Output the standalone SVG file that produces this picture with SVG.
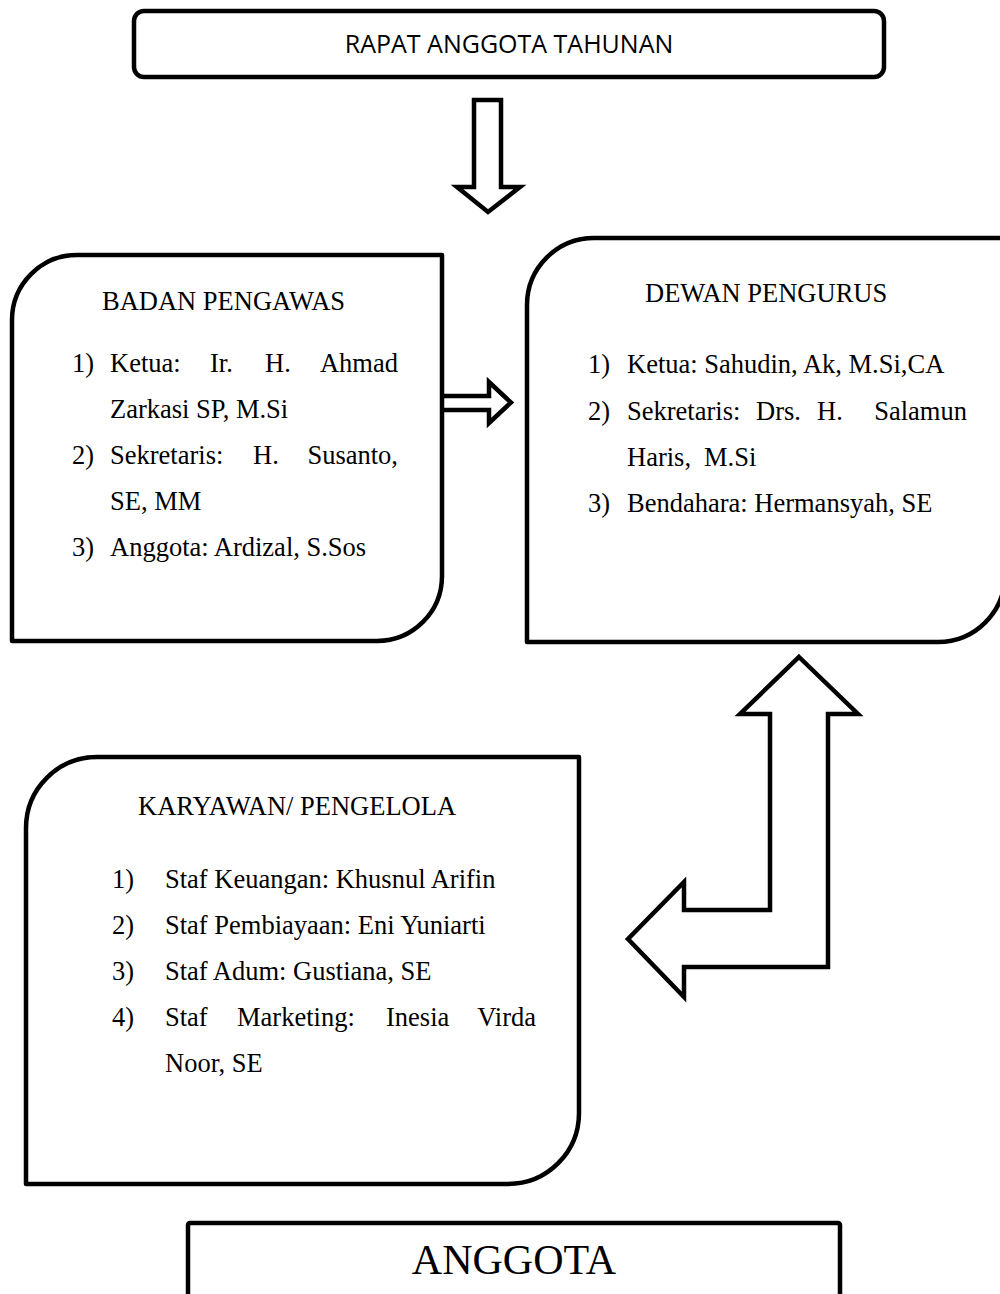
<svg xmlns="http://www.w3.org/2000/svg" width="1000" height="1294" viewBox="0 0 1000 1294">
<style>
.box{fill:#fff;stroke:#000;stroke-width:4.5;stroke-linejoin:round}
.arr{fill:#fff;stroke:#000;stroke-width:4.5;stroke-linejoin:miter;stroke-miterlimit:10}
.t{font-family:"Liberation Serif","Times New Roman",serif;font-size:26.5px;fill:#000}
.s{font-family:"Open Sans","Liberation Sans",sans-serif;font-size:25px;fill:#000}
</style>
<rect width="1000" height="1294" fill="#fff"/>
<g id="connectors">
<path class="arr" d="M474,100 L501,100 L501,187 L520,187 L488,212 L457,187 L474,187 Z"/>
<path class="arr" d="M442,396 L489,396 L489,382 L511,402.5 L489,423 L489,410 L442,410"/>
<path class="arr" d="M799,657 L858,714 L828,714 L828,967 L684,967 L684,997 L628,939 L684,882 L684,910 L770,910 L770,714 L740,714 Z"/>
</g>
<g id="rapat">
<rect class="box" x="134" y="11" width="750" height="66" rx="10"/>
<text class="s" x="509" y="53" text-anchor="middle">RAPAT ANGGOTA TAHUNAN</text>
</g>
<g id="badan-pengawas">
<path class="box" d="M12,641 L12,320 A65,65 0 0 1 77,255 L442,255 L442,576 A65,65 0 0 1 377,641 Z"/>
<text class="t" x="102" y="310">BADAN PENGAWAS</text>
<text class="t" x="72" y="372">1)</text>
<text class="t" x="110" y="372">Ketua:</text>
<text class="t" x="210" y="372">Ir.</text>
<text class="t" x="265" y="372">H.</text>
<text class="t" x="398" y="372" text-anchor="end">Ahmad</text>
<text class="t" x="110" y="418">Zarkasi SP, M.Si</text>
<text class="t" x="72" y="464">2)</text>
<text class="t" x="110" y="464">Sekretaris:</text>
<text class="t" x="253" y="464">H.</text>
<text class="t" x="398" y="464" text-anchor="end">Susanto,</text>
<text class="t" x="110" y="510">SE, MM</text>
<text class="t" x="72" y="556">3)</text>
<text class="t" x="110" y="556">Anggota: Ardizal, S.Sos</text>
</g>
<g id="dewan-pengurus">
<path class="box" d="M527,642 L527,305 A67,67 0 0 1 594,238 L1005,238 L1005,575 A67,67 0 0 1 938,642 Z"/>
<text class="t" x="645" y="302">DEWAN PENGURUS</text>
<text class="t" x="588" y="373">1)</text>
<text class="t" x="627" y="373">Ketua: Sahudin, Ak, M.Si,CA</text>
<text class="t" x="588" y="420">2)</text>
<text class="t" x="627" y="420">Sekretaris:</text>
<text class="t" x="756" y="420">Drs.</text>
<text class="t" x="817" y="420">H.</text>
<text class="t" x="967" y="420" text-anchor="end">Salamun</text>
<text class="t" x="627" y="466">Haris,</text>
<text class="t" x="704" y="466">M.Si</text>
<text class="t" x="588" y="512">3)</text>
<text class="t" x="627" y="512">Bendahara: Hermansyah, SE</text>
</g>
<g id="karyawan-pengelola">
<path class="box" d="M26,1184 L26,828 A71,71 0 0 1 97,757 L579,757 L579,1113 A71,71 0 0 1 508,1184 Z"/>
<text class="t" x="138" y="815">KARYAWAN/ PENGELOLA</text>
<text class="t" x="112" y="888">1)</text>
<text class="t" x="165" y="888">Staf Keuangan: Khusnul Arifin</text>
<text class="t" x="112" y="934">2)</text>
<text class="t" x="165" y="934">Staf Pembiayaan: Eni Yuniarti</text>
<text class="t" x="112" y="980">3)</text>
<text class="t" x="165" y="980">Staf Adum: Gustiana, SE</text>
<text class="t" x="112" y="1026">4)</text>
<text class="t" x="165" y="1026">Staf</text>
<text class="t" x="237" y="1026">Marketing:</text>
<text class="t" x="386" y="1026">Inesia</text>
<text class="t" x="536" y="1026" text-anchor="end">Virda</text>
<text class="t" x="165" y="1072">Noor, SE</text>
</g>
<g id="anggota">
<rect class="box" x="188" y="1223" width="652" height="100" rx="2"/>
<text class="t" x="514" y="1274" text-anchor="middle" style="font-size:42px">ANGGOTA</text>
</g>
</svg>
